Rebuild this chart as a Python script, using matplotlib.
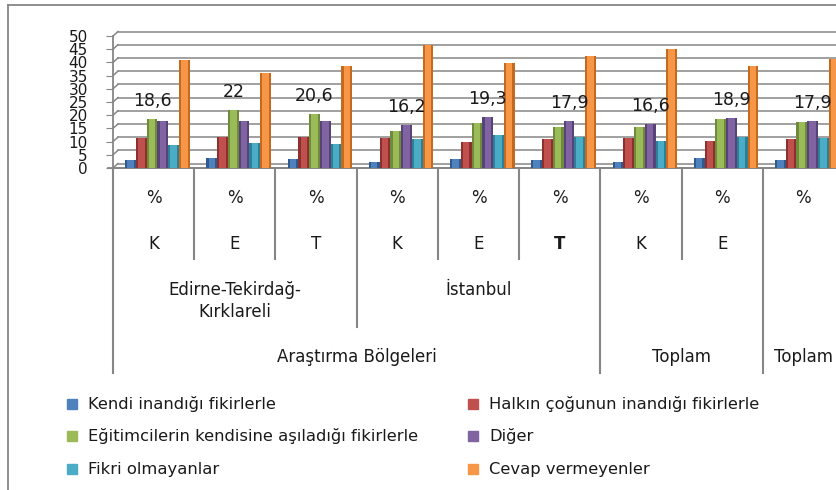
import matplotlib
matplotlib.use("Agg")
import matplotlib.pyplot as plt
from matplotlib import transforms
from matplotlib.lines import Line2D
from matplotlib.patches import Rectangle

# data (percent)
groups = ["K", "E", "T", "K", "E", "T", "K", "E", ""]
series = ["Kendi inandığı fikirlerle",
          "Halkın çoğunun inandığı fikirlerle",
          "Eğitimcilerin kendisine aşıladığı fikirlerle",
          "Diğer",
          "Fikri olmayanlar",
          "Cevap vermeyenler"]
kendi = [3.2, 3.8, 3.5, 2.2, 3.5, 2.9, 2.4, 3.7, 3.0]
halkin = [11.4, 11.9, 11.6, 11.5, 9.9, 10.8, 11.4, 10.4, 10.9]
egitimci = [18.6, 22.0, 20.6, 14.2, 17.1, 15.6, 15.4, 18.5, 17.5]
diger = [17.9, 17.9, 17.9, 16.2, 19.3, 17.9, 16.6, 18.9, 17.9]
fikri_yok = [8.9, 9.4, 9.2, 11.1, 12.4, 11.8, 10.4, 11.8, 11.3]
cevap_yok = [40.9, 36.1, 38.6, 46.6, 39.6, 42.5, 45.0, 38.7, 41.1]
# which series carries the value label in each group
label_series = [2, 2, 2, 3, 3, 3, 3, 3, 3]
label_text = ["18,6", "22", "20,6", "16,2", "19,3", "17,9", "16,6", "18,9", "17,9"]

colors = ["#4F81BD", "#C0504D", "#9BBB59", "#8064A2", "#4BACC6", "#F79646"]
dark = ["#2F5A8F", "#8C2F2D", "#6E8A3A", "#574377", "#2C7F97", "#C46A1E"]
values = [kendi, halkin, egitimci, diger, fikri_yok, cevap_yok]

W, H = 837, 490
fig = plt.figure(figsize=(W / 100, H / 100), dpi=100)
ax = fig.add_axes([113 / W, 1 - 168 / H, 731 / W, 132 / H])
ax.set_xlim(0, 9)
ax.set_ylim(0, 50)

def fy(px):
    return 1 - px / H

grey = "#868686"
txt = "#1a1a1a"

# back wall gridlines (shifted for the 3d look)
dx, dy = 5 / 731, 1.7
for v in range(0, 51, 5):
    ax.plot([dx, 1], [v + dy, v + dy], color=grey, lw=1.1,
            transform=ax.get_yaxis_transform(), clip_on=False, zorder=1)
    ax.plot([0, dx], [v, v + dy], color=grey, lw=1.1,
            transform=ax.get_yaxis_transform(), clip_on=False, zorder=1)

# bars
bw = 0.1325
for i, vals in enumerate(values):
    xs = [g + 0.15 + bw * (i + 0.5) for g in range(len(vals))]
    ax.bar(xs, vals, width=bw, color=dark[i], zorder=3, linewidth=0)
    ax.bar(xs, vals, width=bw * 0.6, color=colors[i], zorder=4, linewidth=0)

for g, (s, t) in enumerate(zip(label_series, label_text)):
    x = g + 0.15 + bw * (s + 0.5)
    ax.annotate(t, (x, values[s][g]), xytext=(0, 13), textcoords="offset points",
                ha="center", va="center", fontsize=12.5, color=txt, zorder=5)

ax.set_yticks(range(0, 51, 5))
ax.set_xticks([])
ax.tick_params(axis="y", length=5, color=grey, pad=13, labelsize=11, labelcolor=txt)
for sp in ["top", "right"]:
    ax.spines[sp].set_visible(False)
ax.spines["left"].set_color(grey)
ax.spines["bottom"].set_color(grey)
ax.spines["left"].set_linewidth(1.3)
ax.spines["bottom"].set_linewidth(1.3)

# category table under the axis
bt = transforms.blended_transform_factory(ax.transData, fig.transFigure)
ax.plot([-5 / 81.2, 9], [fy(168), fy(168)], color=grey, lw=1.3, transform=bt, clip_on=False)
dividers = {0: 373, 1: 259, 2: 259, 3: 327, 4: 259, 5: 259, 6: 373, 7: 259, 8: 373}
for x, end in dividers.items():
    ax.plot([x, x], [fy(168), fy(end)], color=grey, lw=1.5, transform=bt, clip_on=False)

cat_fs = 12
for g, lab in enumerate(groups):
    ax.text(g + 0.5, fy(198), "%", ha="center", va="center", fontsize=cat_fs,
            color=txt, transform=bt)
    if lab:
        ax.text(g + 0.5, fy(244), lab, ha="center", va="center", fontsize=cat_fs,
                color=txt, transform=bt, fontweight="bold" if g == 5 else "normal")
ax.text(1.5, fy(301), "Edirne-Tekirdağ-\nKırklareli", ha="center", va="center",
        fontsize=cat_fs, color=txt, transform=bt, linespacing=1.3)
ax.text(4.5, fy(290), "İstanbul", ha="center", va="center", fontsize=cat_fs,
        color=txt, transform=bt)
ax.text(3.0, fy(357), "Araştırma Bölgeleri", ha="center", va="center", fontsize=cat_fs,
        color=txt, transform=bt)
ax.text(7.0, fy(357), "Toplam", ha="center", va="center", fontsize=cat_fs,
        color=txt, transform=bt)
ax.text(8.5, fy(357), "Toplam", ha="center", va="center", fontsize=cat_fs,
        color=txt, transform=bt)

# legend
rows = [404, 436, 469]
cols = [(67, 88), (468, 489)]
for i, name in enumerate(series):
    (mx, tx), ry = cols[i % 2], rows[i // 2]
    fig.add_artist(Rectangle((mx / W, fy(ry + 5)), 10 / W, 10 / H,
                             transform=fig.transFigure, color=colors[i]))
    fig.text(tx / W, fy(ry), name, ha="left", va="center", fontsize=11.8, color=txt)

# chart border
fig.add_artist(Line2D([8 / W, 8 / W], [0, fy(5)], color=grey, lw=1.3,
                      transform=fig.transFigure))
fig.add_artist(Line2D([8 / W, 1], [fy(5), fy(5)], color=grey, lw=1.3,
                      transform=fig.transFigure))

fig.savefig("out.png", dpi=100)
